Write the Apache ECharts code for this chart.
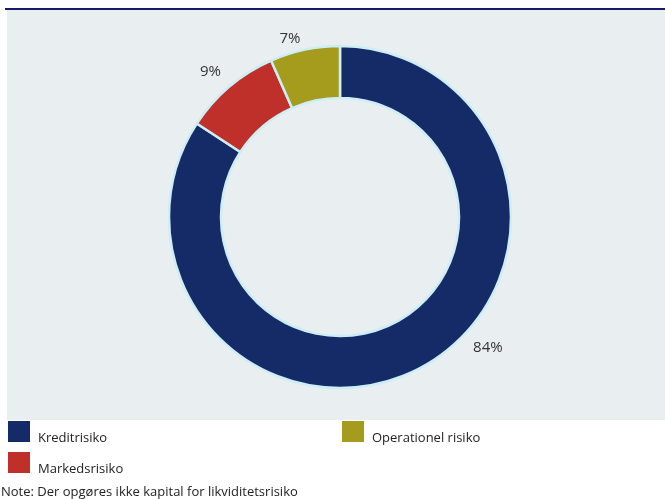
<!DOCTYPE html>
<html><head><meta charset="utf-8">
<script src="https://cdn.jsdelivr.net/npm/echarts@6/dist/echarts.min.js"></script>
<style>html,body{margin:0;padding:0;background:#fff}#c{width:665px;height:499px}</style>
</head><body><div id="c"></div>
<script>
const categories = ['Kreditrisiko', 'Markedsrisiko', 'Operationel risiko'];
const values = [84.2, 9.2, 6.6];
const labels = ['84%', '9%', '7%'];
const colors = ['#152B67', '#C0302B', '#A59B1D'];
const note = 'Note: Der opgøres ikke kapital for likviditetsrisiko';

const FONT = '"Open Sans", "Noto Sans", sans-serif';
const chart = echarts.init(document.getElementById('c'));

const legendPos = [[8, 421], [8, 452], [342, 421]];
const labelShift = [[39, -34], [7, -3], [4, 5]];
const graphics = [
  {type:'rect', shape:{x:7, y:10, width:658, height:410}, style:{fill:'#E9EEF1'}, z:-10},
  {type:'rect', shape:{x:5, y:8, width:660, height:2}, style:{fill:'#141A6E'}, z:-10}
];
categories.forEach((c, i) => {
  const [x, y] = legendPos[i];
  graphics.push({type:'rect', shape:{x:x, y:y, width:22, height:21}, style:{fill:colors[i]}});
  graphics.push({type:'text', x:x+30, y:y+17, style:{text:c, fill:'#222', font:'13px ' + FONT, textVerticalAlign:'middle'}});
});
graphics.push({type:'text', x:1, y:492, style:{text:note, fill:'#222', font:'13px ' + FONT, textVerticalAlign:'middle'}});

chart.setOption({
  animation:false,
  graphic: graphics,
  series:[{
    type:'pie',
    center:[340, 217],
    radius:[119, 171],
    startAngle:90,
    clockwise:true,
    itemStyle:{borderColor:'#CDEEF5', borderWidth:2.5},
    label:{show:true, position:'outside', formatter: p => labels[p.dataIndex], color:'#333', fontSize:15, fontFamily:FONT},
    labelLine:{show:false, length:16, length2:0},
    labelLayout: function(p){ const s = labelShift[p.dataIndex]; return {dx:s[0], dy:s[1]}; },
    emphasis:{disabled:true},
    data: categories.map((c, i) => ({name:c, value:values[i], itemStyle:{color:colors[i]}}))
  }]
});
</script></body></html>
